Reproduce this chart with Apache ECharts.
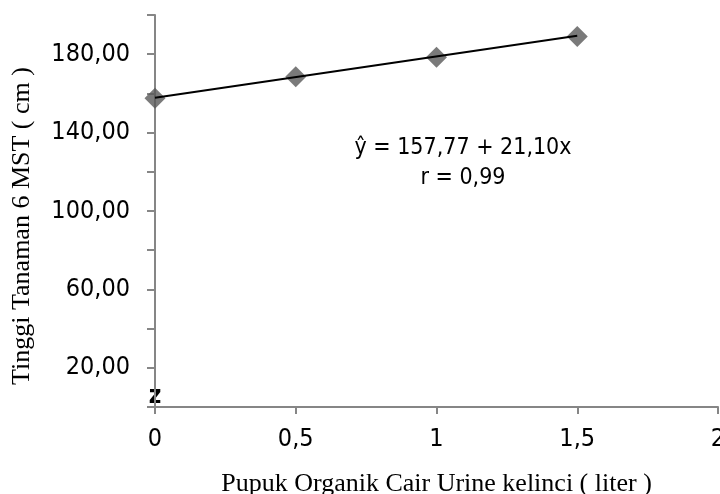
<!DOCTYPE html>
<html>
<head>
<meta charset="utf-8">
<script src="https://cdn.jsdelivr.net/npm/echarts@6/dist/echarts.min.js"></script>
<style>
  html, body { margin: 0; padding: 0; background: #fff; }
  #chart { width: 720px; height: 494px; }
</style>
</head>
<body>
<div id="chart"></div>
<script>
// data
const dosis = [0, 0.5, 1, 1.5];
const tinggi = [157.5, 168.5, 178.5, 189.0];
// regression line end points (y = 157,77 + 21,10x)
const trendX = [0, 1.5];
const trendY = [157.77, 189.42];
const yLabels = [20, 60, 100, 140, 180];

const narrow = "'Liberation Sans Narrow', 'DejaVu Sans Condensed', sans-serif";
const serif = "'Liberation Serif', 'DejaVu Serif', serif";

const chart = echarts.init(document.getElementById('chart'));

const option = {
  animation: false,
  grid: { left: 155, right: 2, top: 15, bottom: 87, containLabel: false, outerBoundsMode: 'none' },
  xAxis: {
    type: 'value',
    min: 0,
    max: 2,
    interval: 0.5,
    name: 'Pupuk Organik Cair Urine kelinci ( liter )',
    nameLocation: 'middle',
    nameGap: 64,
    nameTextStyle: { fontFamily: serif, fontSize: 26, color: '#000' },
    axisLine: { lineStyle: { color: '#868686', width: 2 } },
    axisTick: { show: true, length: 7, lineStyle: { color: '#868686', width: 2 } },
    splitLine: { show: false },
    axisLabel: {
      fontFamily: narrow,
      fontSize: 25,
      color: '#000',
      margin: 20,
      showMaxLabel: true,
      hideOverlap: false,
      formatter: v => String(v).replace('.', ',')
    }
  },
  yAxis: {
    type: 'value',
    min: 0,
    max: 200,
    interval: 20,
    axisLine: { show: true, lineStyle: { color: '#868686', width: 2 } },
    axisTick: { show: true, length: 8, lineStyle: { color: '#868686', width: 2 } },
    splitLine: { show: false },
    axisLabel: {
      fontFamily: narrow,
      fontSize: 25,
      color: '#000',
      margin: 25,
      formatter: v => yLabels.includes(v) ? v.toFixed(2).replace('.', ',') : ''
    }
  },
  series: [
    {
      type: 'line',
      data: trendX.map((x, i) => [x, trendY[i]]),
      showSymbol: false,
      symbol: 'none',
      lineStyle: { color: '#000', width: 2 },
      z: 3
    },
    {
      type: 'scatter',
      data: dosis.map((x, i) => [x, tinggi[i]]),
      symbol: 'diamond',
      symbolSize: 21,
      itemStyle: { color: '#595959' },
      z: 2
    }
  ],
  graphic: [
    {
      type: 'text',
      x: 22,
      y: 226,
      rotation: Math.PI / 2,
      style: {
        text: 'Tinggi Tanaman 6 MST ( cm )',
        font: '26px ' + serif,
        fill: '#000',
        align: 'center',
        verticalAlign: 'middle'
      }
    },
    {
      type: 'text',
      x: 463,
      y: 163,
      style: {
        text: 'ŷ = 157,77 + 21,10x\nr = 0,99',
        font: '23px ' + narrow,
        lineHeight: 30,
        fill: '#000',
        align: 'center',
        verticalAlign: 'middle'
      }
    },
    {
      type: 'text',
      x: 155,
      y: 397,
      style: {
        text: 'z',
        font: 'bold 24px ' + narrow,
        fill: '#000',
        align: 'center',
        verticalAlign: 'middle'
      }
    }
  ]
};

chart.setOption(option);
</script>
</body>
</html>
